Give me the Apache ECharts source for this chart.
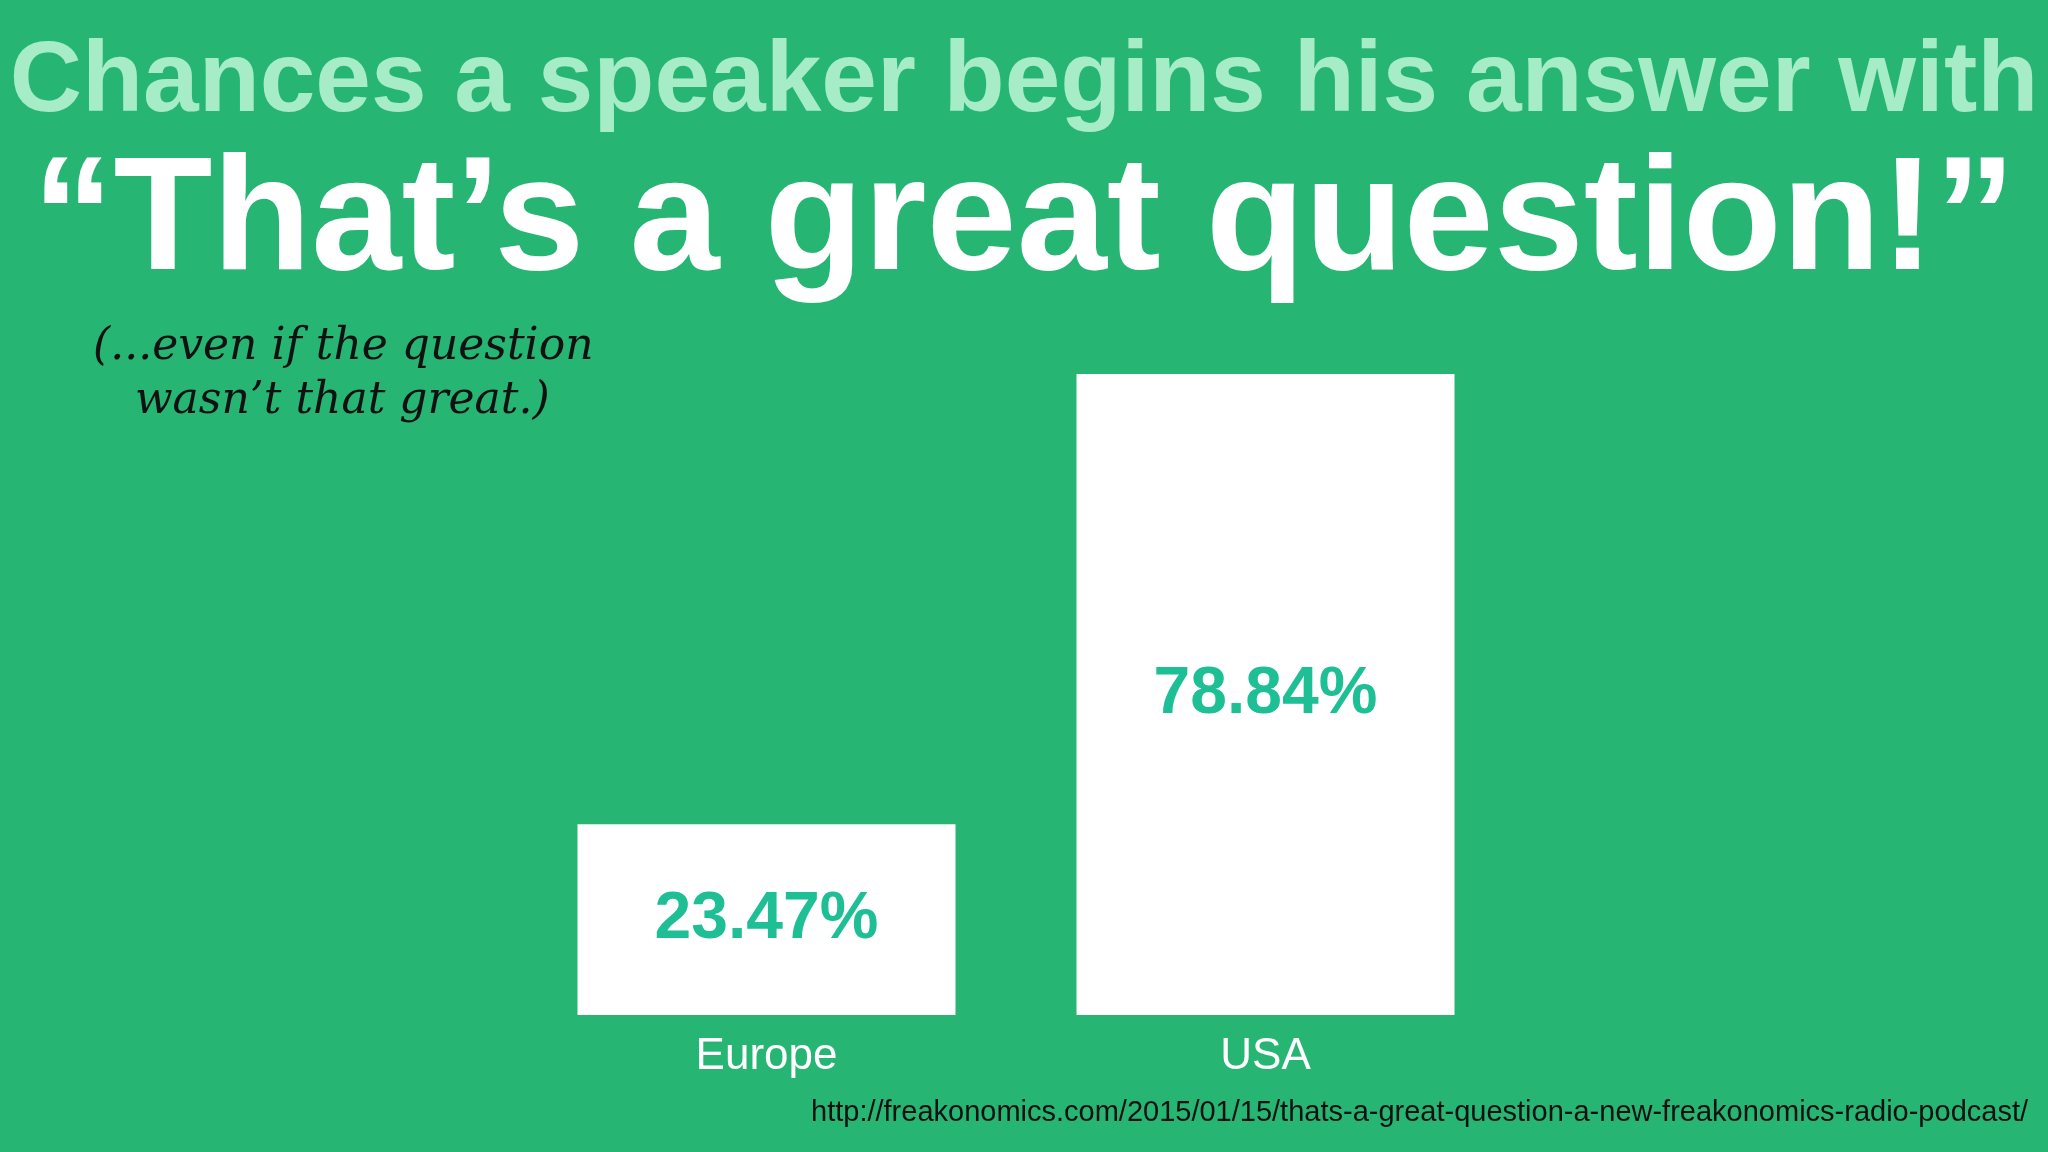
<!DOCTYPE html>
<html>
<head>
<meta charset="utf-8">
<script src="https://cdn.jsdelivr.net/npm/echarts@6/dist/echarts.min.js"></script>
<style>
  html, body { margin: 0; padding: 0; background: #27b574; }
  #chart { width: 2048px; height: 1152px; }
</style>
</head>
<body>
<div id="chart"></div>
<script>
// chart data
const categories = ['Europe', 'USA']
const shares = [23.47, 78.84]

const chart = echarts.init(document.getElementById('chart'), null, { renderer: 'canvas' })

chart.setOption({
  backgroundColor: '#27b574',
  title: [
    {
      text: 'Chances a speaker begins his answer with',
      left: 'center', top: 28,
      textStyle: { color: '#a6ecc6', fontSize: 100, fontWeight: 'bold', fontFamily: 'Liberation Sans', letterSpacing: -3 }
    },
    {
      text: '\u201cThat\u2019s a great question!\u201d',
      left: 'center', top: 138,
      textStyle: { color: '#ffffff', fontSize: 162, fontWeight: 'bold', fontFamily: 'Liberation Sans', letterSpacing: -5 }
    },
    {
      text: '(...even if the question\n   wasn\u2019t that great.)',
      left: 88, top: 316,
      textStyle: { color: '#111', fontSize: 44, fontStyle: 'italic', fontWeight: 'normal', fontFamily: 'DejaVu Serif', lineHeight: 54 }
    }
  ],
  graphic: [{
    type: 'text', right: 20, top: 1098,
    style: {
      text: 'http://freakonomics.com/2015/01/15/thats-a-great-question-a-new-freakonomics-radio-podcast/',
      fill: '#111', font: '29px "Liberation Sans"'
    }
  }],
  grid: { left: 517, width: 998, top: 374, height: 641 },
  xAxis: {
    type: 'category',
    data: categories,
    axisLine: { show: false },
    axisTick: { show: false },
    axisLabel: { color: '#ffffff', fontSize: 44, fontFamily: 'Liberation Sans', margin: 20 }
  },
  yAxis: { type: 'value', min: 0, max: 78.84, show: false },
  series: [{
    type: 'bar',
    data: shares,
    barWidth: 378,
    itemStyle: { color: '#ffffff' },
    label: {
      show: true, position: 'inside',
      formatter: p => p.value.toFixed(2) + '%',
      color: '#1fbf96', fontSize: 66, fontWeight: 'bold', fontFamily: 'Liberation Sans'
    }
  }]
})
</script>
</body>
</html>
